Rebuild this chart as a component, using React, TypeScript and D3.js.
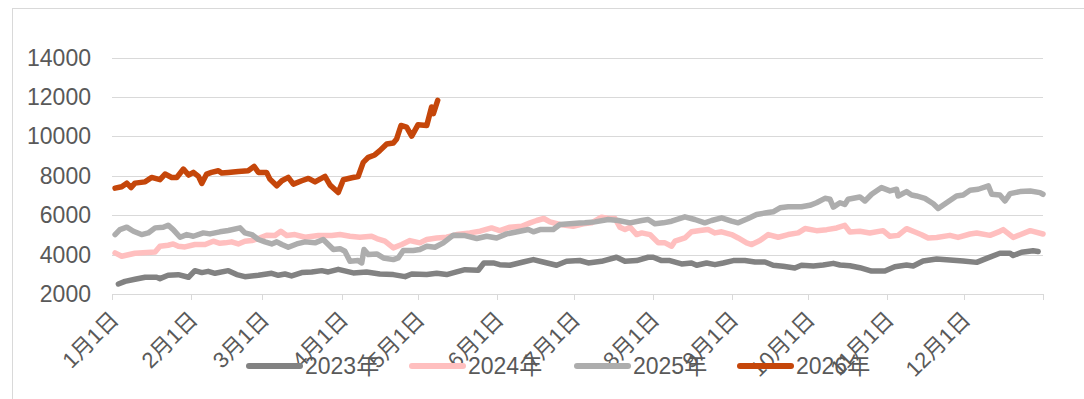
import React from "react";
import * as d3 from "d3";

// x = day of year (0 = 1月1日), y = value
const monthStarts = [0, 31, 59, 90, 120, 151, 181, 212, 243, 273, 304, 334, 365];
const monthLabels = ["1月1日", "2月1日", "3月1日", "4月1日", "5月1日", "6月1日", "7月1日", "8月1日", "9月1日", "10月1日", "11月1日", "12月1日"];
const yTicks = [2000, 4000, 6000, 8000, 10000, 12000, 14000];

const s2023: [number, number][] = [
  [2.5,2510],[5.1,2640],[9,2745],[13,2850],[17.5,2850],[18.8,2780],[22,2950],[26,2980],[30,2850],[32.5,3185],[35.2,3085],[37.7,3150],[40.4,3050],[45.6,3185],[48.9,2985],[52.1,2880],[57.4,2950],[62.6,3050],[65.2,2950],[67.8,3015],[70.4,2915],[74.4,3085],[78.3,3120],[82.2,3185],[84.8,3120],[88.7,3250],
  [94.6,3070],[99.8,3120],[105,3015],[110.3,2985],[114.9,2880],[117.5,3015],[123.4,2985],[127.3,3050],[131.2,2985],[135.1,3120],[138.4,3235],[143.6,3205],[145.8,3575],[149.5,3575],[152,3490],[156,3460],[161.2,3625],[165.2,3745],[169,3625],[174.3,3460],[178.2,3660],[183.4,3700],
  [186.7,3575],[191.9,3660],[197.8,3865],[201.1,3660],[205.7,3695],[210.2,3865],[212.2,3865],[215.5,3695],[218.7,3695],[223.3,3525],[227.2,3575],[229.2,3460],[233.1,3575],[236.4,3490],[239.6,3575],[243.6,3695],[248.1,3695],[252.1,3625],[256,3625],[259.2,3460],[263.1,3405],[267.7,3320],[270.3,3460],[275,3420],
  [278.8,3470],[282.8,3555],[285.4,3470],[289.3,3435],[293.2,3335],[297.8,3165],[303,3165],[306.9,3385],[311.5,3470],[314.1,3420],[318,3675],[323.3,3780],[328.5,3725],[333.7,3675],[339,3605],[342.9,3810],[348.1,4070],[352.1,4070],[353.3,3950],[356.6,4120],[361.1,4190],[363.1,4155]
];

const s2024: [number, number][] = [
  [1.2,4085],[3.8,3915],[9,4070],[16.9,4135],[18.8,4425],[22,4475],[24,4540],[26,4425],[28.6,4390],[32.5,4510],[36.5,4510],[39.7,4680],[42.3,4575],[44.3,4595],[46.9,4645],[49.5,4540],[52.1,4680],[54.8,4710],[57.4,4815],[60.6,4985],[63.9,4965],[66.2,5185],[68.5,4965],[71.7,5015],[75.7,4880],[80.9,4965],[86.1,4965],
  [89.4,5015],[93.3,4930],[97.2,4880],[101.8,4930],[103.8,4815],[107,4680],[110.3,4340],[113.6,4510],[116.8,4710],[120.7,4595],[123.4,4765],[127.3,4845],[131.2,4880],[135.1,5015],[140.3,5100],[144.3,5185],[148.8,5355],[152,5220],[156,5390],[160.6,5440],[163.9,5610],[166.5,5730],[169.3,5830],[171.7,5660],[175.6,5525],[180.8,5440],
  [184.8,5560],[188,5610],[191.9,5900],[194.6,5830],[197.2,5830],[199.1,5390],[201.1,5270],[203.1,5390],[205.7,5015],[207.7,5100],[210.9,5015],[214.2,4595],[216.8,4595],[219.4,4425],[220.7,4680],[224.6,4845],[227.2,5155],[230.5,5220],[233.7,5270],[236.4,5100],[239,5155],[242.9,5015],[245.5,4845],[248.8,4595],[250.8,4510],[254,4710],[257.3,5015],[261.2,4880],[265.1,5015],[269,5100],[271.7,5320],
  [276.2,5215],[280.2,5265],[284.1,5350],[287.3,5485],[289.3,5145],[293.2,5180],[297.1,5095],[302.3,5215],[305,4925],[308.2,4975],[311.5,5315],[314.8,5145],[317.4,5010],[320,4840],[323.3,4870],[328.5,4975],[331.7,4870],[336.4,5045],[339,5095],[344.2,4975],[348.1,5180],[349.4,5265],[353.3,4870],[356,5010],[360,5215],[365,5045]
];

const s2025: [number, number][] = [
  [1.2,5015],[3.1,5270],[5.8,5390],[8.4,5185],[11.6,5015],[14.2,5100],[16.9,5355],[20.1,5390],[22,5490],[24,5270],[26.7,4880],[29.3,5015],[31.9,4930],[35.8,5100],[38.4,5050],[42.3,5155],[45.6,5220],[50.2,5355],[52.1,5100],[54.8,5015],[57.4,4765],[60,4645],[62.6,4540],[64.6,4645],[66.6,4510],[69.1,4375],[72.4,4540],[75.7,4645],[79.6,4595],[82.8,4765],[84.8,4510],[86.8,4255],
  [89.4,4300],[91.3,4170],[93.3,3660],[96.5,3695],[97.9,3575],[98.8,4255],[100.5,4000],[103.8,4035],[106.4,3830],[110.3,3745],[112.2,3830],[114.2,4205],[118.1,4205],[120.7,4255],[123.4,4425],[126.6,4375],[129.9,4595],[133.8,4985],[138.4,4965],[143,4815],[146.9,4930],[150.8,4845],[154.7,5050],[159.9,5185],[163.2,5270],[165.2,5155],[167.8,5270],[173,5270],[175.6,5525],[179.5,5560],
  [183.4,5600],[185.4,5610],[189.3,5660],[194.6,5780],[198.5,5730],[203.1,5610],[207.7,5730],[210.2,5780],[212.9,5560],[216.1,5610],[219.4,5695],[224.6,5915],[228.5,5780],[232.4,5610],[235.1,5730],[239,5865],[242.9,5695],[245.5,5610],[249.4,5830],[252.7,6035],[256.6,6120],[259.2,6170],[261.9,6375],[265.1,6425],[270.3,6425],
  [273.6,6500],[276.2,6630],[279.5,6855],[281.5,6805],[282.8,6410],[285.4,6630],[287.3,6545],[288.6,6805],[293.2,6925],[295.2,6720],[297.8,7060],[301.7,7400],[305,7230],[307.6,7315],[308.2,6975],[311.5,7195],[313.5,7025],[315.4,6975],[318.7,6855],[322,6580],[323.9,6340],[327.2,6630],[331.1,6975],[333.7,7025],[336.4,7265],[339.6,7315],[343.6,7485],[344.9,7060],[348.1,7025],[350.1,6720],[352.1,7095],[356,7195],[360,7230],[363.8,7145],[365,7060]
];

const s2026: [number, number][] = [
  [1.2,7370],[3.8,7440],[5.8,7625],[7.5,7400],[9,7625],[13,7690],[15.5,7915],[18.8,7800],[20.8,8085],[23.4,7915],[25.4,7915],[28,8340],[30,8035],[31.9,8170],[33.9,7965],[35.2,7610],[37.1,8085],[39,8170],[41.7,8255],[43,8135],[45.6,8170],[49.5,8220],[53.4,8255],[55.7,8475],[57.4,8170],[60.6,8170],[61.9,7830],[64.6,7490],[66.6,7745],[69.1,7915],[71.1,7575],[74.4,7745],[77,7865],[79.6,7690],[83.5,7965],[85.5,7525],[88.7,7150],[90.7,7795],[94,7900],[96.5,7965],[98.5,8680],[100.5,8935],[103,9055],[105,9275],[107.7,9615],[110.3,9665],[111.6,9870],[113.3,10550],[115.5,10470],[117.5,10010],[120,10590],[123.4,10550],[125.3,11490],[126,11150],[127.7,11830]
];

const seriesNames = ["2023年", "2024年", "2025年", "2026年"];
const seriesData = [s2023, s2024, s2025, s2026];
const seriesColors = ["#828282", "#FFBFBF", "#ADADAD", "#C5460A"];

const W = 1084;
const H = 399;
const FONT = "'Liberation Sans', Arial, 'Noto Sans CJK SC', sans-serif";
const TEXT = "#595959";
const GRID = "#D9D9D9";

export default function App() {
  const x = d3.scaleLinear().domain([0, 365]).range([112, 1043]);
  const y = d3.scaleLinear().domain([2000, 14000]).range([294, 57.5]);
  const line = d3
    .line<[number, number]>()
    .x((d) => x(d[0]))
    .y((d) => y(d[1]));

  const legendX = [247, 410, 575, 738];

  return (
    <svg
      width={W}
      height={H}
      style={{ position: "absolute", left: 0, top: 0, background: "#fff" }}
      fontFamily={FONT}
    >
      <rect x={12.5} y={8.5} width={1200} height={600} fill="none" stroke={GRID} />
      {yTicks.slice(1).map((t) => (
        <line key={t} x1={112} x2={1043} y1={Math.round(y(t)) + 0.5} y2={Math.round(y(t)) + 0.5} stroke={GRID} strokeWidth={1} />
      ))}
      <line x1={112} x2={1043} y1={Math.round(y(2000)) + 0.5} y2={Math.round(y(2000)) + 0.5} stroke={GRID} strokeWidth={1} />
      {monthStarts.map((m) => (
        <line key={m} x1={Math.round(x(m)) + 0.5} x2={Math.round(x(m)) + 0.5} y1={y(2000)} y2={y(2000) + 6} stroke={GRID} />
      ))}
      {yTicks.map((t) => (
        <text key={t} x={91} y={y(t)} dy="0.35em" textAnchor="end" fontSize={23} fill={TEXT}>
          {t}
        </text>
      ))}
      {monthLabels.map((l, i) => (
        <text
          key={l}
          transform={`translate(${x(monthStarts[i]) + 8},${321}) rotate(-45)`}
          textAnchor="end"
          fontSize={22}
          fill={TEXT}
        >
          {l}
        </text>
      ))}
      {seriesData.map((s, i) => (
        <path
          key={seriesNames[i]}
          d={line(s) || ""}
          fill="none"
          stroke={seriesColors[i]}
          strokeWidth={5.5}
          strokeLinejoin="round"
          strokeLinecap="round"
        />
      ))}
      {seriesNames.map((n, i) => (
        <g key={n}>
          <line x1={legendX[i] + 2} x2={legendX[i] + 53} y1={366} y2={366} stroke={seriesColors[i]} strokeWidth={6} strokeLinecap="round" />
          <text x={legendX[i] + 58} y={366} dy="0.35em" fontSize={23} fill={TEXT}>
            {n}
          </text>
        </g>
      ))}
    </svg>
  );
}
